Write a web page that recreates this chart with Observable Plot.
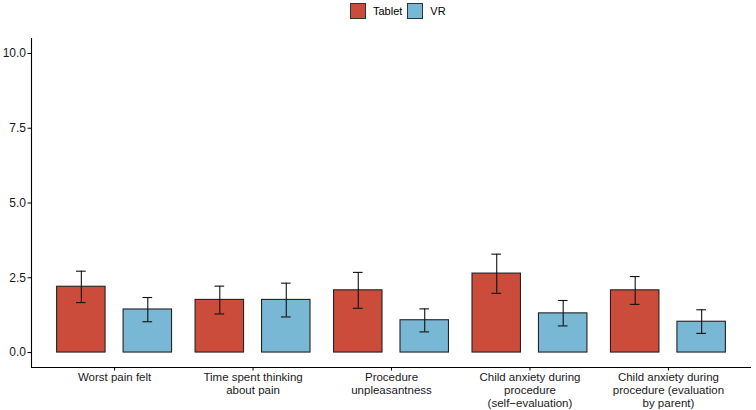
<!DOCTYPE html>
<html><head><meta charset="utf-8">
<script src="https://cdn.jsdelivr.net/npm/d3@7"></script>
<script src="https://cdn.jsdelivr.net/npm/@observablehq/plot@0.6"></script>
<style>
body{margin:0;background:#fff;font-family:"Liberation Sans",Arial,sans-serif;}
#legend{height:22px;display:flex;justify-content:flex-start;align-items:flex-start;font-size:11px;color:#000;padding-left:350px;box-sizing:border-box;}
.item{display:flex;align-items:center;margin:3px 5px 0 0;}
.sw{width:14px;height:14px;border:1px solid #333;margin-right:7px;}
</style></head>
<body>
<div id="legend"></div>
<div id="chart"></div>
<script>
const categories = [
  "Worst pain felt",
  "Time spent thinking\nabout pain",
  "Procedure\nunpleasantness",
  "Child anxiety during\nprocedure\n(self\u2212evaluation)",
  "Child anxiety during\nprocedure (evaluation\nby parent)"
];
const groups = ["Tablet", "VR"];
const colors = ["#CB4C3A", "#79B8D5"];
const tabletMean = [2.20, 1.76, 2.08, 2.64, 2.08];
const tabletLow  = [1.67, 1.29, 1.48, 1.98, 1.61];
const tabletHigh = [2.72, 2.22, 2.68, 3.29, 2.54];
const vrMean = [1.44, 1.76, 1.08, 1.31, 1.03];
const vrLow  = [1.03, 1.19, 0.69, 0.89, 0.64];
const vrHigh = [1.84, 2.32, 1.46, 1.74, 1.43];
const yTicks = [0, 2.5, 5, 7.5, 10];

const dodge = 0.24, bw = 0.35, cap = 0.035;
const rows = [];
categories.forEach((c, i) => {
  rows.push({cat: c, idx: i + 1, group: "Tablet", off: -dodge, mean: tabletMean[i], lo: tabletLow[i], hi: tabletHigh[i]});
  rows.push({cat: c, idx: i + 1, group: "VR", off: dodge, mean: vrMean[i], lo: vrLow[i], hi: vrHigh[i]});
});
const cx = d => d.idx + d.off;

const legend = document.getElementById("legend");
groups.forEach((g, i) => {
  const it = document.createElement("div"); it.className = "item";
  const sw = document.createElement("div"); sw.className = "sw"; sw.style.background = colors[i];
  const t = document.createElement("span"); t.textContent = g;
  it.appendChild(sw); it.appendChild(t); legend.appendChild(it);
});

const chart = Plot.plot({
  width: 756, height: 388,
  marginLeft: 31, marginRight: 5, marginTop: 16, marginBottom: 43,
  style: {fontFamily: "Liberation Sans, Arial, sans-serif", fontSize: "12px", color: "#222", background: "#fff"},
  x: {domain: [0.4, 5.6], axis: null},
  y: {domain: [-0.5, 10.5], axis: null},
  color: {domain: groups, range: colors},
  marks: [
    Plot.rect(rows, {x1: d => cx(d) - bw / 2, x2: d => cx(d) + bw / 2, y1: 0, y2: "mean", fill: "group", stroke: "#222", strokeWidth: 1.1}),
    Plot.ruleX(rows, {x: cx, y1: "lo", y2: "hi", stroke: "#111", strokeWidth: 1.1}),
    Plot.ruleY(rows, {y: "hi", x1: d => cx(d) - cap, x2: d => cx(d) + cap, stroke: "#111", strokeWidth: 1.1}),
    Plot.ruleY(rows, {y: "lo", x1: d => cx(d) - cap, x2: d => cx(d) + cap, stroke: "#111", strokeWidth: 1.1}),
    Plot.ruleX([0.4], {y1: -0.5, y2: 10.5, stroke: "#000", strokeWidth: 1.1}),
    Plot.ruleY([-0.5], {x1: 0.4, x2: 5.6, stroke: "#000", strokeWidth: 1.1}),
    Plot.axisY(yTicks, {anchor: "left", tickSize: 3.5, tickPadding: 2, tickFormat: d3.format(".1f"), fontSize: 12, fill: "#1a1a1a", stroke: "#000"}),
    Plot.axisX(d3.range(1, 6), {anchor: "bottom", tickSize: 3.5, tickPadding: 0.5, tickFormat: i => categories[i - 1], fontSize: 11.5, lineHeight: 1.13, fill: "#1a1a1a", stroke: "#000"})
  ]
});
document.getElementById("chart").appendChild(chart);
</script>
</body></html>
